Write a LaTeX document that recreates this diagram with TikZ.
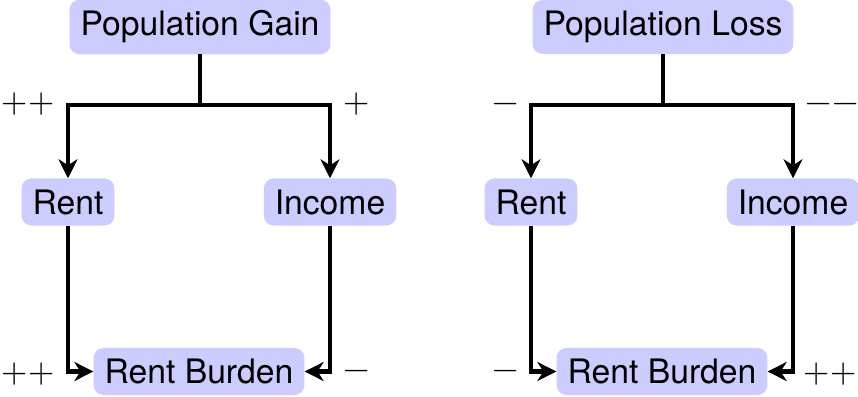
\documentclass[tikz,border=0pt]{standalone}
\usepackage{fontspec}
\setmainfont{TeX Gyre Heros}
\newfontfamily\lmm{Latin Modern Math}
\usetikzlibrary{arrows.meta}
\begin{document}
\begin{tikzpicture}[x=1pt,y=1pt,
  box/.style={fill=blue!20, rounded corners=10pt, inner sep=11pt, font=\fontsize{33.7}{40}\selectfont},
  conn/.style={line width=4.5pt, -{Stealth[length=19pt,width=19pt,inset=6pt]}},
  sign/.style={font=\lmm\fontsize{33.7}{40}\selectfont, inner sep=0pt, anchor=base}]
\useasboundingbox (0,0) rectangle (858,-396);
% left half
\node[box] (pg) at (200,-27) {Population Gain};
\node[box] (rentL) at (68,-202) {Rent};
\node[box] (incL) at (330,-202) {Income};
\node[box] (rbL) at (199,-371.5) {Rent Burden};
\coordinate (jL) at (200,-105);
\draw[conn] (pg.south) -- (jL) -| (rentL.north);
\draw[conn] (pg.south) -- (jL) -| (incL.north);
\draw[conn] (rentL.south) |- (rbL.west);
\draw[conn] (incL.south) |- (rbL.east);
\node[sign] (s1) at (28,-112.4) {++};
\node[sign] (s2) at (357,-112.4) {+};
\node[sign] (s3) at (28,-382) {++};
\node[sign] (s4) at (357,-379.5) {−};
% right half
\node[box] (pl) at (663,-27) {Population Loss};
\node[box] (rentR) at (531,-202) {Rent};
\node[box] (incR) at (793,-202) {Income};
\node[box] (rbR) at (662,-371.5) {Rent Burden};
\coordinate (jR) at (663,-105);
\draw[conn] (pl.south) -- (jR) -| (rentR.north);
\draw[conn] (pl.south) -- (jR) -| (incR.north);
\draw[conn] (rentR.south) |- (rbR.west);
\draw[conn] (incR.south) |- (rbR.east);
\node[sign] (s5) at (506,-112.4) {−};
\node[sign] (s6) at (832,-112.4) {−−};
\node[sign] (s7) at (506,-379.5) {−};
\node[sign] (s8) at (830,-382) {++};
\end{tikzpicture}
\end{document}
